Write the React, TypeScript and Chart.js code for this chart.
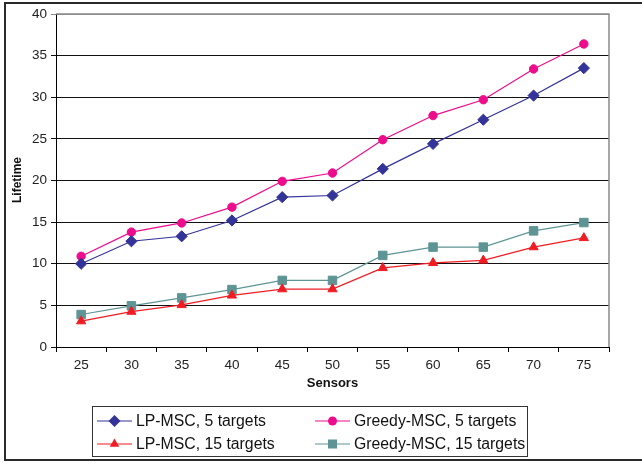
import React, { useEffect, useRef } from "react";
import { Chart, registerables } from "chart.js";

Chart.register(...registerables);

const sensors = ["25", "30", "35", "40", "45", "50", "55", "60", "65", "70", "75"];
const lpMsc5 = [10, 12.7, 13.3, 15.2, 18, 18.2, 21.4, 24.4, 27.3, 30.2, 33.5];
const greedyMsc5 = [10.9, 13.8, 14.9, 16.8, 19.9, 20.9, 24.9, 27.8, 29.7, 33.4, 36.4];
const lpMsc15 = [3.1, 4.25, 5.05, 6.2, 6.95, 6.95, 9.5, 10.1, 10.4, 12.0, 13.1];
const greedyMsc15 = [3.9, 4.95, 5.9, 6.9, 8.0, 8.0, 11.0, 12.0, 12.0, 13.95, 14.95];
const seriesNames = ["LP-MSC, 5 targets", "Greedy-MSC, 5 targets", "LP-MSC, 15 targets", "Greedy-MSC, 15 targets"];
const yTitle = "Lifetime";
const xTitle = "Sensors";

const NAVY = "#333399";
const PINK = "#ec0c8c";
const RED = "#f01c24";
const TEAL = "#5f9494";

function drawMarker(ctx: CanvasRenderingContext2D, style: string, x: number, y: number, color: string) {
  ctx.save();
  ctx.fillStyle = color;
  ctx.beginPath();
  if (style === "rectRot") {
    const r = 6;
    ctx.moveTo(x, y - r);
    ctx.lineTo(x + r, y);
    ctx.lineTo(x, y + r);
    ctx.lineTo(x - r, y);
    ctx.closePath();
  } else if (style === "circle") {
    ctx.arc(x, y, 4.5, 0, Math.PI * 2);
  } else if (style === "triangle") {
    const r = 5.5;
    ctx.moveTo(x, y - r);
    ctx.lineTo(x + r * 0.866, y + r * 0.5);
    ctx.lineTo(x - r * 0.866, y + r * 0.5);
    ctx.closePath();
  } else {
    const h = 4.5;
    ctx.rect(x - h, y - h, 2 * h, 2 * h);
  }
  ctx.fill();
  ctx.restore();
}

const decorPlugin = {
  id: "decor",
  afterDraw(chart: any) {
    const ctx: CanvasRenderingContext2D = chart.ctx;
    const a = chart.chartArea;
    ctx.save();
    // plot border (top & right)
    ctx.strokeStyle = "#8a8a8a";
    ctx.lineWidth = 1.5;
    ctx.beginPath();
    ctx.moveTo(a.left, a.top);
    ctx.lineTo(a.right, a.top);
    ctx.lineTo(a.right, a.bottom);
    ctx.stroke();
    // outer frame
    ctx.strokeStyle = "#2a2a2a";
    ctx.lineWidth = 2;
    ctx.beginPath();
    ctx.moveTo(700, 3);
    ctx.lineTo(5, 3);
    ctx.lineTo(5, 460);
    ctx.lineTo(700, 460);
    ctx.stroke();
    // axis titles
    ctx.fillStyle = "#111";
    ctx.font = "bold 13px 'Liberation Sans', Arial, sans-serif";
    ctx.textAlign = "center";
    ctx.textBaseline = "middle";
    ctx.fillText(xTitle, (a.left + a.right) / 2, 383);
    ctx.font = "bold 12px 'Liberation Sans', Arial, sans-serif";
    ctx.save();
    ctx.translate(18, 180);
    ctx.rotate(-Math.PI / 2);
    ctx.fillText(yTitle, 0, 0);
    ctx.restore();
    // legend
    ctx.strokeStyle = "#333";
    ctx.lineWidth = 1;
    ctx.strokeRect(92.5, 406.5, 435, 50);
    const cols = [97, 315];
    const rows = [421, 444];
    ctx.font = "15.8px 'Liberation Sans', Arial, sans-serif";
    ctx.textAlign = "left";
    chart.data.datasets.forEach((ds: any, i: number) => {
      const cx = cols[i % 2];
      const cy = rows[Math.floor(i / 2)];
      ctx.strokeStyle = ds.borderColor;
      ctx.lineWidth = 1.2;
      ctx.beginPath();
      ctx.moveTo(cx, cy);
      ctx.lineTo(cx + 35, cy);
      ctx.stroke();
      drawMarker(ctx, ds.pointStyle, cx + 17.5, cy, ds.pointBackgroundColor);
      ctx.fillStyle = "#111";
      ctx.fillText(ds.label, cx + 39, cy + 1);
    });
    ctx.restore();
  },
};

export default function App() {
  const ref = useRef<HTMLCanvasElement | null>(null);
  useEffect(() => {
    document.body.style.margin = "0";
    const canvas = ref.current;
    if (!canvas) return;
    const mk = (label: string, data: number[], color: string, style: string, radius: number) => ({
      label,
      data,
      borderColor: color,
      backgroundColor: color,
      pointBackgroundColor: color,
      pointBorderColor: color,
      pointStyle: style,
      pointRadius: radius,
      pointBorderWidth: 1,
      borderWidth: 1.2,
      tension: 0,
      fill: false,
    });
    const chart = new Chart(canvas, {
      type: "line",
      data: {
        labels: sensors,
        datasets: [
          mk(seriesNames[0], lpMsc5, NAVY, "rectRot", 5.6),
          mk(seriesNames[1], greedyMsc5, PINK, "circle", 4.2),
          mk(seriesNames[2], lpMsc15, RED, "triangle", 5.3),
          mk(seriesNames[3], greedyMsc15, TEAL, "rect", 6),
        ] as any,
      },
      options: {
        responsive: false,
        animation: false,
        devicePixelRatio: 1,
        layout: { padding: { left: 0, top: 14, right: 33, bottom: 0 } },
        plugins: { legend: { display: false }, tooltip: { enabled: false }, title: { display: false } },
        scales: {
          x: {
            type: "category",
            offset: true,
            grid: { offset: true, drawOnChartArea: false, drawTicks: true, tickLength: 5, color: "#000" },
            border: { color: "#000", width: 1 },
            ticks: { color: "#222", font: { size: 13.5, family: "'Liberation Sans', Arial, sans-serif" }, padding: 5, maxRotation: 0 },
            afterFit: (s: any) => { s.height = 117; },
          },
          y: {
            min: 0,
            max: 40,
            ticks: { stepSize: 5, color: "#222", font: { size: 13.5, family: "'Liberation Sans', Arial, sans-serif" }, padding: 4 },
            grid: {
              color: (c: any) => (c.tick && c.tick.value === 40 ? "#8a8a8a" : "#111"),
              tickLength: 5,
              drawTicks: true,
              lineWidth: 1,
            },
            border: { color: "#000", width: 1 },
            afterFit: (s: any) => { s.width = 56; },
          },
        },
      },
      plugins: [decorPlugin],
    } as any);
    return () => chart.destroy();
  }, []);
  return (
    <div style={{ width: 642, height: 464, background: "#fff" }}>
      <canvas ref={ref} width={642} height={464} />
    </div>
  );
}
